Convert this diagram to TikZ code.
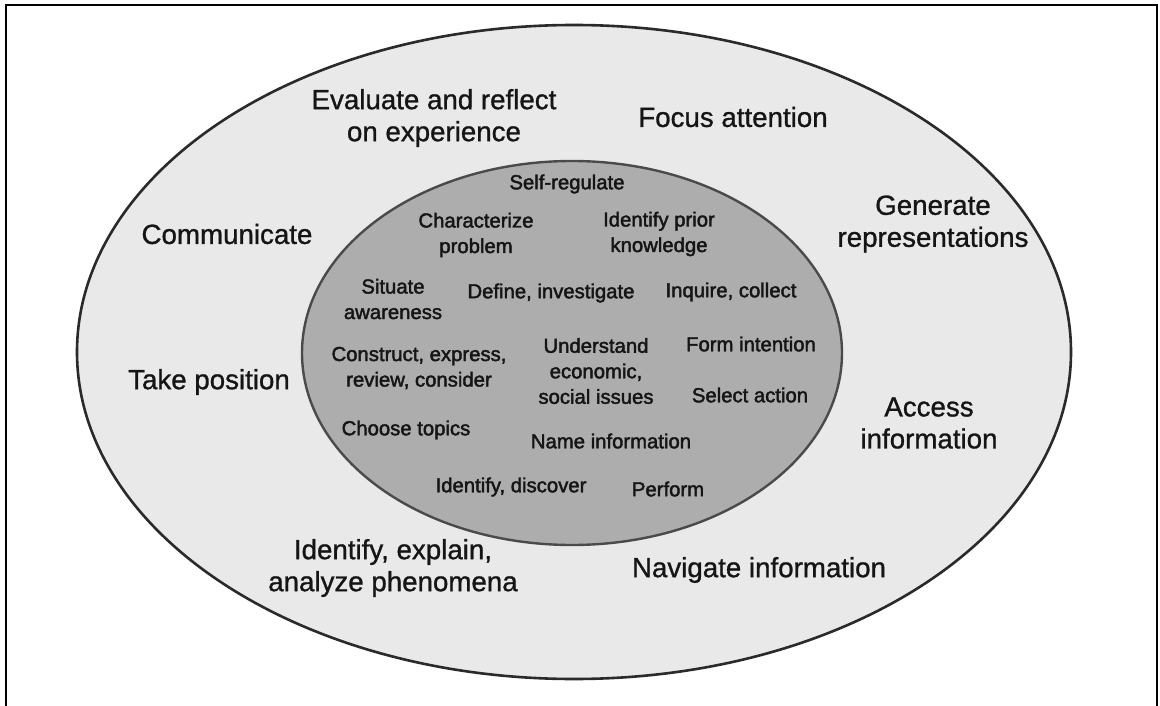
\documentclass[tikz,border=0pt]{standalone}
\usepackage{fontspec}
\setmainfont{Liberation Sans}
\newfontfamily\outerfont{Liberation Sans}[FakeBold=1]
\newfontfamily\innerfont{Liberation Sans}[FakeBold=2]
\definecolor{outerfill}{HTML}{E9E9E9}
\definecolor{innerfill}{HTML}{ADADAD}
\definecolor{rim}{HTML}{2A2A2A}
\definecolor{txt}{HTML}{151515}
\tikzset{
  outertxt/.style={inner sep=0pt, align=center, text=txt, font=\outerfont\fontsize{27.7}{32}\selectfont},
  innertxt/.style={inner sep=0pt, align=center, text=txt, font=\innerfont\fontsize{20.3}{25.5}\selectfont},
}
\begin{document}
\begin{tikzpicture}[x=1pt,y=-1pt]
\useasboundingbox (0,0) rectangle (1160,706);
\fill[white] (0,0) rectangle (1160,706);
% frame (open at the bottom)
\draw[line width=2pt, black] (6,706) -- (6,5) -- (1157,5) -- (1157,706);
% outer ellipse
\draw[line width=2.6pt, draw=rim, fill=outerfill] (574,352) ellipse [x radius=497, y radius=327];
% inner ellipse
\draw[line width=2.4pt, draw=rim!85, fill=innerfill] (572,353) ellipse [x radius=270, y radius=192];

% outer labels
\node[outertxt] (evaluate) at (434,118) {Evaluate and reflect\\on experience};
\node[outertxt] (focus) at (733,117) {Focus attention};
\node[outertxt] (communicate) at (227,234) {Communicate};
\node[outertxt] (generate) at (933,224) {Generate\\representations};
\node[outertxt] (position) at (209,382) {Take position};
\node[outertxt] (access) at (929,423) {Access\\information};
\node[outertxt] (phenomena) at (393,568) {Identify, explain,\\analyze phenomena};
\node[outertxt] (navigate) at (759,570) {Navigate information};

% inner labels
\node[innertxt] (selfreg) at (567,184) {Self-regulate};
\node[innertxt] (character) at (476,235) {Characterize\\problem};
\node[innertxt] (prior) at (659,234) {Identify prior\\knowledge};
\node[innertxt] (situate) at (393,299) {Situate\\awareness};
\node[innertxt] (define) at (551,293) {Define, investigate};
\node[innertxt] (inquire) at (731,292) {Inquire, collect};
\node[innertxt] (construct) at (419,368) {Construct, express,\\review, consider};
\node[innertxt] (understand) at (596,371) {Understand\\economic,\\social issues};
\node[innertxt] (intention) at (751,344) {Form intention};
\node[innertxt] (select) at (750,395) {Select action};
\node[innertxt] (topics) at (406,430) {Choose topics};
\node[innertxt] (name) at (611,441) {Name information};
\node[innertxt] (discover) at (511,487) {Identify, discover};
\node[innertxt] (perform) at (668,489) {Perform};
\end{tikzpicture}
\end{document}
